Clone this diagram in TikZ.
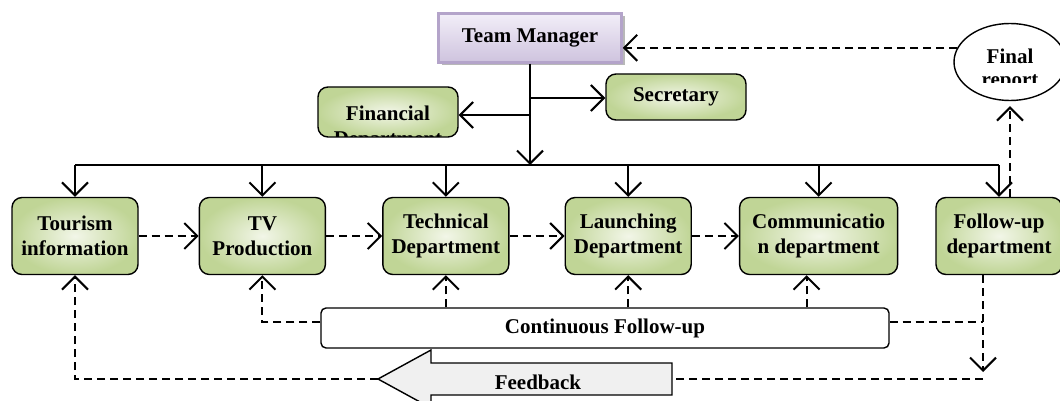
\documentclass[tikz,border=0pt]{standalone}
\usepackage{fontspec}
\setmainfont{Liberation Serif}
\usetikzlibrary{positioning,arrows.meta,shadows,shapes.geometric}

\definecolor{dgreen}{RGB}{192,213,150}
\definecolor{lgreen}{RGB}{242,246,232}
\definecolor{tmline}{RGB}{180,164,202}
\definecolor{tmtop}{RGB}{242,238,248}
\definecolor{tmbot}{RGB}{206,195,222}

\begin{document}
\begin{tikzpicture}[x=1pt,y=-1pt, node distance=50pt,
  >={Straight Barb[length=13pt,width=26pt]},
  every node/.style={font=\fontsize{21}{25}\selectfont\bfseries, align=center},
  dept/.style={draw, line width=1.4pt, rounded corners=10pt, inner color=lgreen, outer color=dgreen, minimum width=126pt, minimum height=77pt},
  tmbox/.style={draw=tmline, line width=2.5pt, top color=tmtop, bottom color=tmbot, minimum width=183pt, minimum height=49pt,
    drop shadow={shadow xshift=3pt, shadow yshift=-3pt, fill=gray!70, opacity=.8}},
  line/.style={line width=2pt},
  dsh/.style={line width=2pt, dash pattern=on 8pt off 5pt}]
\useasboundingbox (0,0) rectangle (1060,401);
\clip (0,0) rectangle (1060,401);

% top
\node[tmbox] (tm) at (530,38) {Team Manager};
\node[dept, minimum width=140pt, minimum height=46pt] (sec) at (676,97) {Secretary};
\node[dept, minimum width=140pt, minimum height=50pt,
  path picture={\node at ([yshift=-16pt]path picture bounding box.center) {Financial\\Department};}] (fin) at (388,112) {};
\node[draw, ellipse, line width=1.4pt, fill=white, minimum width=112pt, minimum height=77pt,
  path picture={\clip (path picture bounding box.north west) rectangle ([yshift=18pt]path picture bounding box.south east);
    \node[font=\fontsize{21}{23}\selectfont\bfseries] at ([yshift=-8pt]path picture bounding box.center) {Final\\report};}] (fr) at (1010,62) {};

% departments
\node[dept] (tour) at (75,236) {Tourism\\information};
\node[dept] (tv) [right=60pt of tour] {TV\\Production};
\node[dept] (tech) [right=56pt of tv] {Technical\\Department};
\node[dept] (launch) [right=55pt of tech] {Launching\\Department};
\node[dept, minimum width=158pt] (comm) [right=47pt of launch] {Communicatio\\n department};
\node[dept] (fol) [right=37pt of comm] {Follow-up\\department};

% bottom
\node[draw, line width=1.4pt, rounded corners=5pt, fill=white, minimum width=568pt, minimum height=40pt] (cf) at (605,328) {Continuous Follow-up};
\draw[line width=1.4pt, fill=gray!12] (672,363) -- (431,363) -- (431,350) -- (378,379) -- (431,408) -- (431,395) -- (672,395) -- cycle;
\node (fb) at (538,382) {Feedback};
\coordinate (fbtip) at (378,379);
\coordinate (fbend) at (672,379);

% manager lines
\coordinate (bus) at (530,165);
\coordinate (j1) at (530,98);
\coordinate (j2) at (530,115);
\draw[line,->] (tm) -- (bus);
\draw[line,->] (j1) -- (j1 -| sec.west);
\draw[line,->] (j2) -- (j2 -| fin.east);
\draw[line] (tour.north |- bus) -- (fol.north |- bus);
\foreach \n in {tour,tv,tech,launch,comm,fol}
  \draw[line,->] (\n.north |- bus) -- (\n.north);

% flow
\path[dsh,->]
  (tour) edge (tv)
  (tv) edge (tech)
  (tech) edge (launch)
  (launch) edge (comm);

\draw[dsh,->,shorten >=5pt] (fol.north -| fr.south) -- (fr.south);
\draw[dsh,->] (fr.165) -- (fr.165 -| tm.east);

% follow-up and feedback
\draw[dsh,->] ([yshift=6pt]cf.west) -| (tv.south);
\foreach \n in {tech,launch}
  \draw[dsh,->] (cf.north -| \n.south) -- (\n.south);
\coordinate (cb) at ([xshift=-12pt]comm.south);
\draw[dsh,->] (cf.north -| cb) -- (cb);
\coordinate (fx) at ([xshift=-16pt]fol.south);
\draw[dsh] ([yshift=6pt]cf.east) -- ([yshift=6pt]cf.east -| fx);
\draw[dsh,->,shorten >=7pt] (fx) -- (fx |- fbend);
\draw[dsh] (fx |- fbend) -- (fbend);
\draw[dsh,->] (fbtip) -| (tour.south);

\end{tikzpicture}
\end{document}
